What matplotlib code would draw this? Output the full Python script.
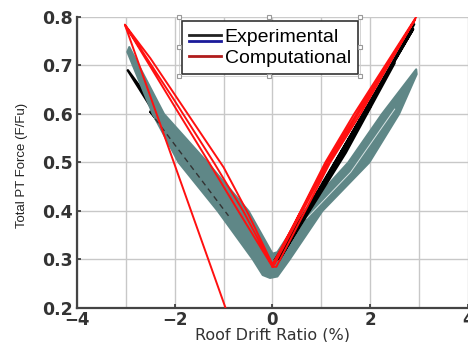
import numpy as np
import matplotlib
matplotlib.use('Agg')
import matplotlib.pyplot as plt
from matplotlib.lines import Line2D
from matplotlib.legend_handler import HandlerBase
from matplotlib.ticker import MultipleLocator

# experimental grey band: outline (outer edge, then inner edge back)
band_x = [-2.97, -2.45, -1.92, -1.12, -0.4, -0.2, -0.05, 0.1, 0.35, 1.02, 1.98, 2.59, 2.95,
          2.94, 2.24, 1.55, 0.65, 0.1, 0.0, -0.49, -1.33, -2.22, -2.93]
band_y = [0.728, 0.6, 0.5, 0.4, 0.3, 0.268, 0.262, 0.265, 0.3, 0.4, 0.5, 0.6, 0.682,
          0.692, 0.6, 0.5, 0.4, 0.315, 0.312, 0.4, 0.5, 0.6, 0.738]

# experimental, black loops
black_lx = [0.0, -1.0, 0.0, -1.5, -0.05, -2.0, -0.05, -2.5, -0.1, -2.96, -2.4, -0.1]
black_ly = [0.30, 0.41, 0.30, 0.465, 0.30, 0.52, 0.30, 0.605, 0.30, 0.69, 0.60, 0.30]
black_rx = [0.05, 1.0, 0.1, 1.5, 0.15, 2.0, 0.2, 2.5, 1.5, 0.2, 2.9, 1.6, 0.1, 2.88, 0.15]
black_ry = [0.30, 0.45, 0.305, 0.53, 0.31, 0.615, 0.31, 0.705, 0.52, 0.31, 0.785, 0.545, 0.30, 0.775, 0.30]

# computational, red
red_x = [0.0, 1.08, 1.67, 2.94, 1.8, 1.18, 0.08,
         0.0, -0.7, -1.3, -2.0, -3.02, -2.5, -2.0, -1.5, -1.0, -0.5, 0.0,
         1.12, 1.72, 2.92, 1.75, 1.14, 0.04,
         -0.02, -0.6, -1.2, -2.0, -3.02, -0.96]
red_y = [0.285, 0.5, 0.6, 0.80, 0.6, 0.5, 0.285,
         0.285, 0.4, 0.5, 0.615, 0.784, 0.715, 0.64, 0.565, 0.49, 0.395, 0.29,
         0.5, 0.6, 0.795, 0.6, 0.5, 0.29,
         0.29, 0.4, 0.5, 0.627, 0.784, 0.2]

plt.rcParams['font.family'] = ['Liberation Sans', 'DejaVu Sans']

fig = plt.figure(figsize=(4.68, 3.42), dpi=100)
ax = fig.add_axes([0.1645, 0.0994, 0.8355, 0.851])

gcol = '#5f8787'
ax.plot(black_lx, black_ly, color='black', lw=1.8, zorder=3)
ax.fill(band_x, band_y, color=gcol, lw=1.5, ec=gcol, joinstyle='round', zorder=4)
ax.plot([-2.4, -1.5, -0.9], [0.59, 0.47, 0.39], color='#333333', lw=1, ls=(0, (4, 3)), zorder=4.5)
ax.plot([0.7, 1.6, 2.5], [0.385, 0.48, 0.61], color='#d8e4e4', lw=0.7, zorder=4.5)
ax.plot(black_rx, black_ry, color='black', lw=1.6, zorder=5)
ax.plot(red_x, red_y, color='#ff1010', lw=1.4, zorder=6)

ax.set_xlim(-4, 4)
ax.set_ylim(0.2, 0.8)
ax.xaxis.set_major_locator(MultipleLocator(2))
ax.xaxis.set_minor_locator(MultipleLocator(1))
ax.yaxis.set_major_locator(MultipleLocator(0.1))
ax.grid(True, which='both', color='#c8c8c8', lw=1)
ax.set_axisbelow(True)
ax.set_yticklabels(['%.1f' % v for v in ax.get_yticks()])
ax.tick_params(direction='in', length=3, width=1.2, pad=3, colors='#333333')
ax.tick_params(which='minor', length=0)
for t in ax.get_yticklabels():
    t.set_fontfamily('DejaVu Sans')
    t.set_fontsize(12.5)
    t.set_fontweight('bold')
    t.set_color('#333333')
for t in ax.get_xticklabels():
    t.set_fontfamily('DejaVu Sans')
    t.set_fontsize(12)
    t.set_fontweight('bold')
    t.set_color('#333333')
ax.tick_params(axis='x', pad=2)
for s in ['top', 'right']:
    ax.spines[s].set_visible(False)
for s in ['left', 'bottom']:
    ax.spines[s].set_linewidth(1.6)
    ax.spines[s].set_color('#444444')

ax.set_xlabel('Roof Drift Ratio (%)', fontsize=11.5, family='DejaVu Sans', color='#333333')
ax.xaxis.set_label_coords(0.5, -0.068)
ax.set_ylabel('Total PT Force (F/Fu)', fontsize=9.5, color='#222222')
ax.yaxis.set_label_coords(-0.125, 0.49)


class TwoLineHandler(HandlerBase):
    def create_artists(self, legend, orig_handle, xdescent, ydescent, width, height, fontsize, trans):
        l1 = Line2D([-xdescent, -xdescent + width], [0.5 * height] * 2, color='#222222', lw=2, transform=trans)
        l2 = Line2D([-xdescent, -xdescent + width], [0.05 * height] * 2, color='#1a1a9a', lw=2, transform=trans)
        return [l1, l2]


h_exp = Line2D([], [], color='black')
h_comp = Line2D([], [], color='#b01c1c', lw=2)
leg = ax.legend([h_exp, h_comp], ['Experimental', 'Computational'],
                handler_map={h_exp: TwoLineHandler()},
                loc='upper left', bbox_to_anchor=(0.2685, 0.985), fontsize=14,
                frameon=True, fancybox=False, framealpha=1, edgecolor='#333333',
                handlelength=1.65, handletextpad=0.2, borderpad=0.35, labelspacing=0.2,
                borderaxespad=0)
leg.get_frame().set_linewidth(1.2)
leg.set_zorder(10)

# selection handles round the legend box
fig.canvas.draw()
bb = leg.get_window_extent().transformed(fig.transFigure.inverted())
x0, x1 = bb.x0 - 0.006, bb.x1 + 0.004
y0, y1 = bb.y0 - 0.006, bb.y1 + 0.012
xm, ym = (x0 + x1) / 2, (y0 + y1) / 2
fig.add_artist(Line2D([x0, x1, x1, x0, x0], [y0, y0, y1, y1, y0], color='#cccccc', lw=0.6))
fig.add_artist(Line2D([x0, xm, x1, x0, x1, x0, xm, x1], [y1, y1, y1, ym, ym, y0, y0, y0],
                      ls='none', marker='s', ms=3.5, mfc='white', mec='#999999', mew=0.8))

fig.savefig('out.png', dpi=100)
